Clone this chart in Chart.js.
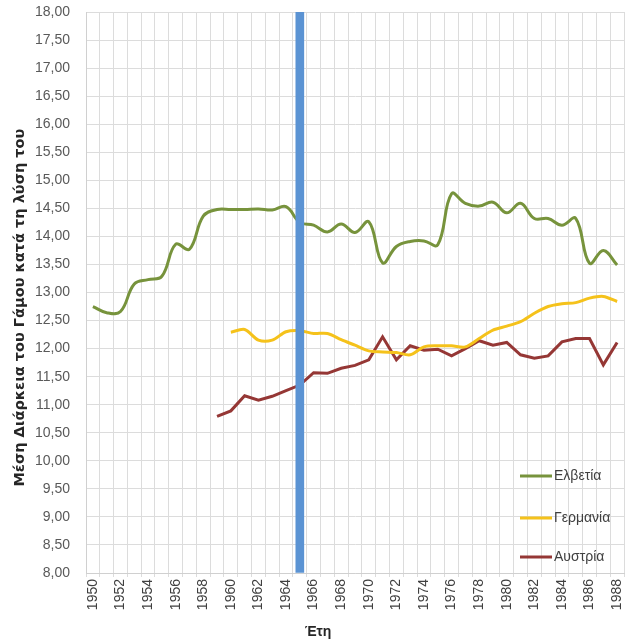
<!DOCTYPE html>
<html>
<head>
<meta charset="utf-8">
<script src="https://cdn.jsdelivr.net/npm/chart.js@4.4.0/dist/chart.umd.min.js"></script>
<style>
html,body{margin:0;padding:0;background:#fff;}
#wrap{width:632px;height:642px;}
</style>
</head>
<body>
<div id="wrap"><canvas id="c" width="632" height="642"></canvas></div>
<script>
const years = [];
for (let y = 1950; y <= 1988; y++) years.push(String(y));

const switzerland = [12.75,12.64,12.66,13.15,13.23,13.29,13.86,13.77,14.36,14.48,
  14.48,14.48,14.49,14.47,14.53,14.25,14.20,14.08,14.22,14.07,
  14.26,13.53,13.82,13.91,13.92,13.85,14.76,14.59,14.54,14.61,
  14.42,14.59,14.32,14.32,14.20,14.32,13.52,13.75,13.49];
const germany = [null,null,null,null,null,null,null,null,null,null,
  12.29,12.34,12.15,12.15,12.30,12.32,12.27,12.27,12.16,12.06,
  11.96,11.94,11.93,11.89,12.03,12.05,12.05,12.03,12.18,12.33,
  12.40,12.48,12.63,12.75,12.80,12.82,12.90,12.93,12.84];
const austria = [null,null,null,null,null,null,null,null,null,10.79,
  10.89,11.16,11.08,11.15,11.25,11.35,11.57,11.56,11.65,11.70,
  11.80,12.21,11.80,12.05,11.97,11.99,11.87,12.00,12.14,12.06,
  12.11,11.89,11.83,11.87,12.12,12.18,12.18,11.71,12.11];
const markerYear = '1965';
const markerValue = 18;
const markerBar = years.map(y => y === markerYear ? markerValue : null);

const seriesNames = ['Ελβετία','Γερμανία','Αυστρία'];
const yTitle = 'Μέση Διάρκεια του Γάμου κατά τη λύση του';
const xTitle = 'Έτη';

const FONT = "'Liberation Sans', Arial, sans-serif";

const legendPlugin = {
  id: 'inlegend',
  afterDraw(chart) {
    const ctx = chart.ctx;
    const ys = [476, 518, 557];
    ctx.save();
    [0,1,2].forEach((i) => {
      const ds = chart.data.datasets[i];
      const y = ys[i];
      ctx.strokeStyle = ds.borderColor;
      ctx.lineWidth = 3;
      ctx.beginPath();
      ctx.moveTo(520, y);
      ctx.lineTo(552, y);
      ctx.stroke();
      ctx.fillStyle = '#404040';
      ctx.font = "14px " + FONT;
      ctx.textBaseline = 'middle';
      ctx.textAlign = 'left';
      ctx.fillText(ds.label, 554, y);
    });
    ctx.restore();
  }
};

new Chart(document.getElementById('c'), {
  data: {
    labels: years,
    datasets: [
      {type:'line', label: seriesNames[0], data: switzerland, borderColor:'#77933c', borderWidth:3, pointRadius:0, tension:0.4, order:1},
      {type:'line', label: seriesNames[1], data: germany, borderColor:'#f5c21b', borderWidth:3, pointRadius:0, tension:0.3, order:1},
      {type:'line', label: seriesNames[2], data: austria, borderColor:'#953735', borderWidth:3, pointRadius:0, tension:0, order:1},
      {type:'bar', label: '', data: markerBar, base: 8, backgroundColor:'#5b93d3', barThickness:8, order:0}
    ]
  },
  options: {
    responsive: false,
    animation: false,
    layout: {padding: {top: 12, right: 8, left: 12, bottom: 0}},
    plugins: {
      legend: {display: false},
      tooltip: {enabled: false},
      title: {display: true, position: 'bottom', text: xTitle, color: '#262626',
        font: {family: FONT, size: 14, weight: 'bold'}, padding: {top: 6, bottom: 1}}
    },
    scales: {
      x: {
        type: 'category',
        offset: true,
        grid: {offset: true, color: '#dcdcdc', drawTicks: true, tickLength: 4},
        border: {color: '#d0d0d0'},
        ticks: {autoSkip: false, minRotation: 90, maxRotation: 90, color: '#404040', padding: 2,
          font: {family: FONT, size: 14},
          callback: function(v, i) { return i % 2 === 0 ? this.getLabelForValue(v) : ''; }},
        afterFit: s => { s.height = 45.2; s.paddingLeft = 0; s.paddingRight = 0; s.paddingTop = 0; s.paddingBottom = 0; }
      },
      y: {
        min: 8, max: 18,
        grid: {color: '#dcdcdc', drawTicks: false},
        border: {color: '#d0d0d0'},
        ticks: {stepSize: 0.5, color: '#595959', padding: 16, font: {family: FONT, size: 14},
          callback: v => v.toFixed(2).replace('.', ',')},
        title: {display: true, text: yTitle + '\u00a0\u00a0\u00a0\u00a0\u00a0\u00a0', color: '#262626', padding: 0,
          font: {family: "'DejaVu Sans', sans-serif", size: 14.5, weight: 'bold'}},
        afterFit: s => { s.width = 74; s.paddingTop = 0; s.paddingBottom = 0; s.paddingLeft = 0; s.paddingRight = 0; }
      }
    }
  },
  plugins: [legendPlugin]
});
</script>
</body>
</html>
